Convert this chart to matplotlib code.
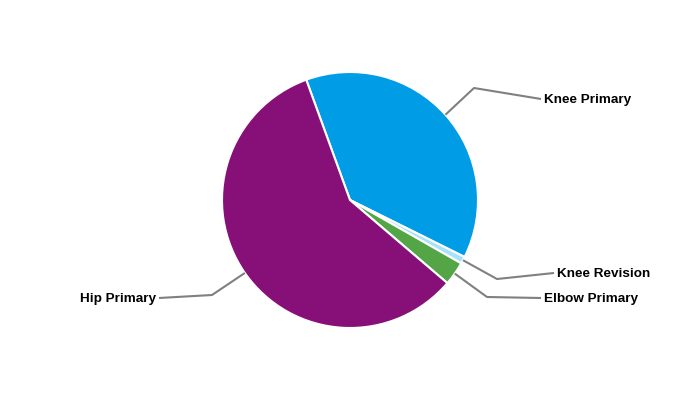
import numpy as np
import matplotlib.pyplot as plt

labels = ["Knee Primary", "Knee Revision", "Elbow Primary", "Hip Primary"]
values = [37.9, 0.9, 3.0, 58.2]
colors = ["#009de6", "#a8e2fa", "#53a546", "#860f78"]

# leader line elbow and label position, in pixels from top-left
elbows = [(474, 88), (497, 279), (487, 297), (212, 295)]
label_pos = [(544, 100), (557, 274), (544, 299), (156, 299)]
aligns = ["left", "left", "left", "right"]

W, H = 700, 400
cx, cy, r = 350, 200, 128

fig = plt.figure(figsize=(7, 4), dpi=100)
ax = fig.add_axes([0, 0, 1, 1])

wedges, _ = ax.pie(values, colors=colors, startangle=110, counterclock=False,
                   center=(cx, H - cy), radius=r, frame=True,
                   wedgeprops=dict(edgecolor="white", linewidth=1.5))
ax.set_xlim(0, W)
ax.set_ylim(0, H)
ax.axis("off")

for w, lab, el, lp, ha in zip(wedges, labels, elbows, label_pos, aligns):
    mid = np.deg2rad((w.theta1 + w.theta2) / 2)
    x0 = cx + r * np.cos(mid)
    y0 = (H - cy) + r * np.sin(mid)
    xs = [x0, el[0], lp[0] + (-3 if ha == "left" else 3)]
    ys = [y0, H - el[1], H - (lp[1] - 1)]
    ax.plot(xs, ys, color="#808080", lw=1.5, solid_capstyle="butt")
    ax.text(lp[0], H - lp[1], lab, ha=ha, va="center", fontsize=9.7,
            fontweight="bold", family="Liberation Sans", color="black")

fig.savefig("out.png", dpi=100)
